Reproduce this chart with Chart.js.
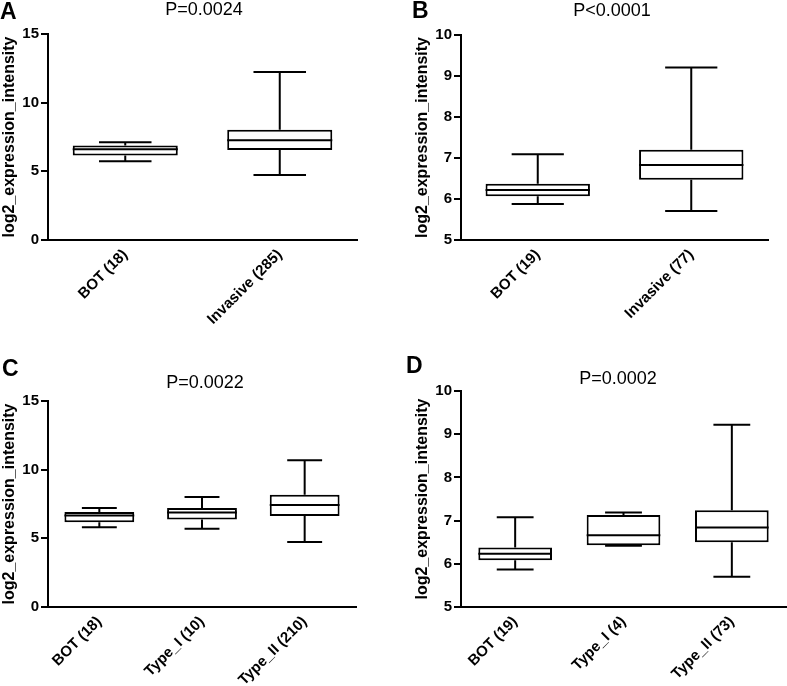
<!DOCTYPE html>
<html><head><meta charset="utf-8">
<script src="https://cdn.jsdelivr.net/npm/chart.js@4.4.0/dist/chart.umd.min.js"></script>
<style>
body{margin:0;background:#fff;width:787px;height:686px;position:relative;overflow:hidden;font-family:"Liberation Sans",Arial,sans-serif}
canvas{position:absolute}
.lbl{position:absolute;font-weight:bold;font-size:23px;line-height:1;color:#000}
.pv{position:absolute;font-size:18px;line-height:1;transform:translateX(-50%);white-space:nowrap;color:#000}
</style></head><body>
<canvas id="cA" width="393" height="340" style="left:0;top:0"></canvas>
<canvas id="cB" width="394" height="340" style="left:393px;top:0"></canvas>
<canvas id="cC" width="393" height="346" style="left:0;top:340px"></canvas>
<canvas id="cD" width="394" height="346" style="left:393px;top:340px"></canvas>
<div class="lbl" style="left:0;top:0">A</div>
<div class="lbl" style="left:412px;top:-1px">B</div>
<div class="lbl" style="left:2px;top:357px">C</div>
<div class="lbl" style="left:406px;top:354px">D</div>
<div class="pv" style="left:204px;top:0">P=0.0024</div>
<div class="pv" style="left:612px;top:1px">P&lt;0.0001</div>
<div class="pv" style="left:205px;top:373px">P=0.0022</div>
<div class="pv" style="left:618px;top:369px">P=0.0002</div>
<script>
// Panel A
const catsA = ["BOT (18)", "Invasive (285)"];
const minA = [5.74, 4.74];
const q1A  = [6.15, 6.56];
const medA = [6.61, 7.27];
const q3A  = [6.88, 8.02];
const maxA = [7.12, 12.23];
// Panel B
const catsB = ["BOT (19)", "Invasive (77)"];
const minB = [5.88, 5.71];
const q1B  = [6.07, 6.47];
const medB = [6.22, 6.83];
const q3B  = [6.37, 7.20];
const maxB = [7.09, 9.21];
// Panel C
const catsC = ["BOT (18)", "Type_I (10)", "Type_II (210)"];
const minC = [5.80, 5.70, 4.73];
const q1C  = [6.17, 6.38, 6.63];
const medC = [6.67, 6.89, 7.43];
const q3C  = [6.92, 7.21, 8.18];
const maxC = [7.21, 8.01, 10.68];
// Panel D
const catsD = ["BOT (19)", "Type_I (4)", "Type_II (73)"];
const minD = [5.87, 6.42, 5.70];
const q1D  = [6.08, 6.43, 6.50];
const medD = [6.23, 6.66, 6.84];
const q3D  = [6.38, 7.13, 7.24];
const maxD = [7.08, 7.19, 9.22];
// Y axis ticks
const yTicksAC = {min: 0, max: 15, step: 5};
const yTicksBD = {min: 5, max: 10, step: 1};

const whiskerPlugin = {
  id: 'whiskers',
  afterDatasetsDraw(chart) {
    const st = chart.options.plugins.whiskers;
    const meta = chart.getDatasetMeta(0);
    const y = chart.scales.y;
    const ctx = chart.ctx;
    ctx.save();
    ctx.strokeStyle = '#000';
    ctx.lineWidth = 2;
    ctx.lineCap = 'butt';
    meta.data.forEach((bar, i) => {
      const x = bar.x, w = bar.width;
      const pMed = y.getPixelForValue(st.med[i]);
      const pQ1 = y.getPixelForValue(st.q1[i]);
      const pQ3 = y.getPixelForValue(st.q3[i]);
      const pMin = y.getPixelForValue(st.min[i]);
      const pMax = y.getPixelForValue(st.max[i]);
      const cw = w * 0.25;
      ctx.beginPath();
      ctx.moveTo(x - w / 2, pMed); ctx.lineTo(x + w / 2, pMed);
      ctx.moveTo(x, pQ3); ctx.lineTo(x, pMax);
      ctx.moveTo(x - cw, pMax); ctx.lineTo(x + cw, pMax);
      ctx.moveTo(x, pQ1); ctx.lineTo(x, pMin);
      ctx.moveTo(x - cw, pMin); ctx.lineTo(x + cw, pMin);
      ctx.stroke();
    });
    ctx.restore();
  }
};

function makeChart(id, cats, mn, q1, md, q3, mx, yt, pad, xH) {
  new Chart(document.getElementById(id), {
    type: 'bar',
    data: {
      labels: cats,
      datasets: [{
        data: cats.map((c, i) => [q1[i], q3[i]]),
        backgroundColor: '#fff',
        borderColor: '#000',
        borderWidth: 2,
        borderSkipped: false,
        barPercentage: 0.68,
        categoryPercentage: 1
      }]
    },
    options: {
      responsive: false,
      animation: false,
      devicePixelRatio: 1,
      layout: {padding: pad},
      plugins: {
        legend: {display: false},
        tooltip: {enabled: false},
        whiskers: {min: mn, q1: q1, med: md, q3: q3, max: mx}
      },
      scales: {
        x: {
          grid: {display: true, drawOnChartArea: false, drawTicks: false},
          border: {display: true, color: '#000', width: 2},
          ticks: {maxRotation: 45, minRotation: 45, color: '#000', padding: 6,
                  font: {family: 'Liberation Sans', weight: 'bold', size: 15}},
          afterFit: s => { s.height = xH; }
        },
        y: {
          min: yt.min, max: yt.max,
          ticks: {stepSize: yt.step, color: '#000', padding: 2,
                  font: {family: 'Liberation Sans', weight: 'bold', size: 15}},
          grid: {display: true, drawOnChartArea: false, drawTicks: true, tickLength: 7, color: '#000', lineWidth: 2},
          border: {display: true, color: '#000', width: 2},
          title: {display: true, text: 'log2_expression_intensity', color: '#000', padding: 0,
                  font: {family: 'Liberation Sans', weight: 'bold', size: 16}},
          afterFit: s => { s.width = 48; }
        }
      }
    },
    plugins: [whiskerPlugin]
  });
}

makeChart('cA', catsA, minA, q1A, medA, q3A, maxA, yTicksAC, {left: 0, top: 34, right: 36, bottom: 0}, 100);
makeChart('cB', catsB, minB, q1B, medB, q3B, maxB, yTicksBD, {left: 20, top: 35, right: 19, bottom: 0}, 100);
makeChart('cC', catsC, minC, q1C, medC, q3C, maxC, yTicksAC, {left: 0, top: 61, right: 37, bottom: 0}, 79);
makeChart('cD', catsD, minD, q1D, medD, q3D, maxD, yTicksBD, {left: 20, top: 51, right: 1, bottom: 0}, 79);
</script>
</body></html>
